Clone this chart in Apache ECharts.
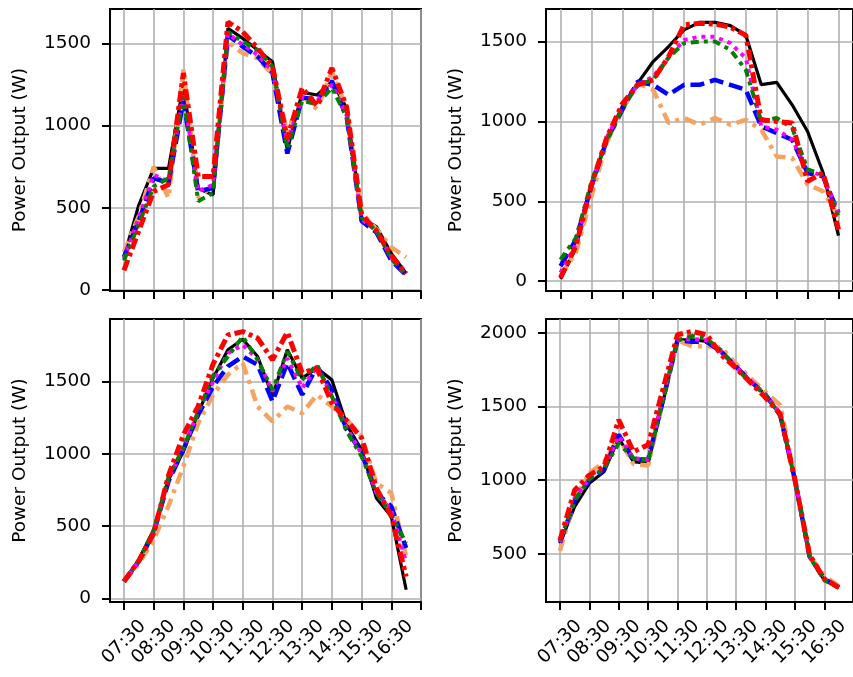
<!DOCTYPE html>
<html>
<head>
<meta charset="utf-8">
<title>Power Output</title>
<script src="https://cdn.jsdelivr.net/npm/echarts@6/dist/echarts.min.js"></script>
<style>
html, body { margin: 0; padding: 0; background: #fff; }
#main { width: 853px; height: 677px; }
</style>
</head>
<body>
<div id="main"></div>
<script>
// 时间点 (分钟, 从 00:00 算起)
var times_long = [450, 480, 510, 540, 570, 600, 630, 660, 690, 720, 750, 780, 810, 840, 870, 900, 930, 960, 990, 1020]; // 07:30 - 17:00
var times_short = [450, 480, 510, 540, 570, 600, 630, 660, 690, 720, 750, 780, 810, 840, 870, 900, 930, 960, 990];   // 07:30 - 16:30

var x_tick_values = [450, 510, 570, 630, 690, 750, 810, 870, 930, 990];
var x_tick_labels = ['07:30', '08:30', '09:30', '10:30', '11:30', '12:30', '13:30', '14:30', '15:30', '16:30'];
var y_ticks_low = [0, 500, 1000, 1500];
var y_ticks_high = [500, 1000, 1500, 2000];

// 左上
var tl_black   = [203, 517, 740, 740, 1247, 618, 578, 1591, 1530, 1459, 1388, 851, 1202, 1186, 1267, 1105, 436, 385, 223, 101];
var tl_magenta = [190, 440, 700, 660, 1200, 600, 640, 1560, 1490, 1430, 1330, 900, 1170, 1150, 1250, 1060, 430, 360, 200, 90];
var tl_blue    = [200, 420, 680, 650, 1150, 600, 620, 1550, 1480, 1420, 1320, 830, 1170, 1160, 1270, 1050, 420, 350, 180, 90];
var tl_green   = [180, 400, 630, 680, 1180, 540, 590, 1570, 1510, 1460, 1360, 860, 1150, 1130, 1230, 1050, 440, 360, 190, 90];
var tl_red     = [120, 360, 600, 640, 1320, 690, 690, 1630, 1570, 1470, 1360, 920, 1230, 1120, 1350, 1110, 460, 360, 210, 100];
var tl_orange  = [230, 450, 750, 560, 1340, 560, 640, 1510, 1440, 1410, 1310, 960, 1180, 1100, 1330, 1100, 470, 370, 260, 200];

// 右上
var tr_black   = [15, 208, 604, 885, 1094, 1240, 1375, 1469, 1573, 1620, 1620, 1600, 1540, 1230, 1245, 1104, 937, 680, 285];
var tr_magenta = [52, 230, 600, 900, 1090, 1230, 1280, 1400, 1510, 1530, 1530, 1490, 1396, 969, 948, 885, 698, 656, 427];
var tr_blue    = [94, 260, 594, 885, 1073, 1250, 1229, 1167, 1229, 1229, 1260, 1229, 1198, 969, 927, 885, 677, 656, 427];
var tr_green   = [135, 270, 620, 880, 1080, 1230, 1260, 1400, 1490, 1500, 1500, 1448, 1323, 1000, 1021, 960, 700, 667, 400];
var tr_red     = [20, 220, 600, 900, 1110, 1229, 1260, 1406, 1604, 1615, 1610, 1590, 1540, 1010, 1000, 990, 625, 677, 323];
var tr_orange  = [31, 180, 531, 870, 1073, 1240, 1198, 990, 1021, 979, 1021, 979, 1010, 948, 781, 771, 604, 563, 406];

// 左下
var bl_black   = [117, 267, 475, 820, 1016, 1281, 1523, 1719, 1792, 1673, 1398, 1719, 1523, 1592, 1511, 1200, 1028, 693, 567, 60];
var bl_magenta = [117, 260, 460, 830, 1040, 1290, 1500, 1696, 1753, 1650, 1431, 1661, 1454, 1604, 1400, 1180, 1000, 730, 610, 250];
var bl_blue    = [117, 255, 455, 810, 1030, 1270, 1465, 1604, 1673, 1615, 1362, 1627, 1408, 1604, 1442, 1166, 1005, 728, 636, 348];
var bl_green   = [117, 262, 470, 840, 1040, 1290, 1540, 1673, 1811, 1650, 1442, 1707, 1511, 1615, 1396, 1154, 982, 728, 578, 382];
var bl_red     = [117, 260, 450, 850, 1130, 1330, 1620, 1822, 1845, 1800, 1650, 1840, 1560, 1590, 1350, 1230, 1110, 760, 570, 150];
var bl_orange  = [117, 240, 405, 640, 912, 1212, 1408, 1546, 1627, 1327, 1223, 1327, 1281, 1408, 1327, 1235, 1120, 797, 728, 290];

// 右下
var br_black   = [570, 820, 979, 1058, 1285, 1126, 1115, 1523, 1954, 1954, 1943, 1875, 1773, 1671, 1580, 1440, 1000, 480, 321, 275];
var br_magenta = [580, 880, 1010, 1080, 1300, 1150, 1140, 1560, 1950, 1960, 1950, 1870, 1770, 1670, 1580, 1450, 1010, 480, 330, 270];
var br_blue    = [575, 860, 1000, 1070, 1310, 1140, 1140, 1540, 1950, 1940, 1940, 1870, 1770, 1670, 1580, 1440, 1000, 480, 330, 270];
var br_green   = [590, 860, 1010, 1080, 1250, 1150, 1130, 1540, 1950, 1980, 1960, 1880, 1760, 1660, 1580, 1440, 1000, 480, 320, 270];
var br_red     = [593, 933, 1035, 1092, 1410, 1194, 1240, 1614, 1988, 2011, 1988, 1850, 1760, 1660, 1560, 1450, 1000, 490, 330, 270];
var br_orange  = [520, 870, 1050, 1120, 1290, 1110, 1100, 1530, 1950, 1910, 1910, 1900, 1790, 1690, 1600, 1510, 1010, 490, 350, 280];

var FONT = 'DejaVu Sans';
var FS = 18.5;

// 线型: 颜色, 宽度, 虚线
var styles = {
    black:   { color: '#000000', width: 3.2, type: 'solid' },
    orange:  { color: '#f4a460', width: 4.5, type: [12, 6, 4, 6] },
    blue:    { color: '#0000ff', width: 4.5, type: [14, 6] },
    magenta: { color: '#ff00ff', width: 4,   type: [4, 5] },
    green:   { color: '#008000', width: 4,   type: [8, 5, 4, 5] },
    red:     { color: '#ff0000', width: 5,   type: [11, 4, 4, 4] }
};

function pairs(times, vals) {
    return vals.map(function (v, i) { return [times[i], v]; });
}

function fmtTime(v) {
    var idx = x_tick_values.indexOf(v);
    return idx >= 0 ? x_tick_labels[idx] : '';
}

function makeX(idx, min, max, ticks, showLabel) {
    return {
        type: 'value', gridIndex: idx, min: min, max: max,
        axisLine: { show: true, onZero: false, lineStyle: { color: '#000', width: 2 } },
        axisTick: { show: true, length: 8, lineStyle: { color: '#000', width: 2 }, customValues: ticks },
        splitLine: { show: true, lineStyle: { color: '#b0b0b0', width: 1.6 } },
        axisLabel: {
            show: showLabel, customValues: x_tick_values, formatter: fmtTime,
            rotate: 45, align: 'center', verticalAlign: 'middle', margin: 40,
            color: '#000', fontFamily: FONT, fontSize: FS
        }
    };
}

function makeY(idx, min, max, ticks) {
    return {
        type: 'value', gridIndex: idx, min: min, max: max,
        name: 'Power Output (W)', nameLocation: 'middle', nameGap: 80, nameRotate: 90,
        nameTextStyle: { color: '#000', fontFamily: FONT, fontSize: FS },
        axisLine: { show: true, onZero: false, lineStyle: { color: '#000', width: 2 } },
        axisTick: { show: true, length: 8, lineStyle: { color: '#000', width: 2 }, customValues: ticks },
        splitLine: { show: true, lineStyle: { color: '#b0b0b0', width: 1.6 } },
        axisLabel: {
            customValues: ticks, margin: 19, color: '#000', fontFamily: FONT, fontSize: FS,
            formatter: function (v) { return String(v); }
        }
    };
}

var panels = [
    { times: times_long,  data: { black: tl_black, orange: tl_orange, blue: tl_blue, magenta: tl_magenta, green: tl_green, red: tl_red } },
    { times: times_short, data: { black: tr_black, orange: tr_orange, blue: tr_blue, magenta: tr_magenta, green: tr_green, red: tr_red } },
    { times: times_long,  data: { black: bl_black, orange: bl_orange, blue: bl_blue, magenta: bl_magenta, green: bl_green, red: bl_red } },
    { times: times_long,  data: { black: br_black, orange: br_orange, blue: br_blue, magenta: br_magenta, green: br_green, red: br_red } }
];

var order = ['black', 'orange', 'blue', 'magenta', 'green', 'red'];
var series = [];
panels.forEach(function (p, gi) {
    order.forEach(function (key) {
        series.push({
            name: key + '_' + gi,
            type: 'line',
            xAxisIndex: gi, yAxisIndex: gi,
            showSymbol: false, symbol: 'none',
            animation: false,
            lineStyle: styles[key],
            data: pairs(p.times, p.data[key])
        });
    });
});

var gridBase = { show: true, borderColor: '#000', borderWidth: 2, backgroundColor: 'transparent', containLabel: false };
function grid(left, top, width, height) {
    return Object.assign({ left: left, top: top, width: width, height: height }, gridBase);
}

var myChart = echarts.init(document.getElementById('main'));
myChart.setOption({
    backgroundColor: '#fff',
    animation: false,
    grid: [
        grid(110, 9, 311, 282),
        grid(546, 9, 311, 282),
        grid(110, 319, 311, 283),
        grid(546, 319, 310, 283)
    ],
    xAxis: [
        makeX(0, 421.8, 1050, x_tick_values.concat([1050]), false),
        makeX(1, 421.8, 1018.2, x_tick_values, false),
        makeX(2, 421.8, 1050, x_tick_values.concat([1050]), true),
        makeX(3, 421.5, 1048.5, x_tick_values, true)
    ],
    yAxis: [
        makeY(0, -6, 1709, y_ticks_low),
        makeY(1, -62, 1704, y_ticks_low),
        makeY(2, -25, 1932, y_ticks_low),
        makeY(3, 173, 2095, y_ticks_high)
    ],
    series: series
});
</script>
</body>
</html>
